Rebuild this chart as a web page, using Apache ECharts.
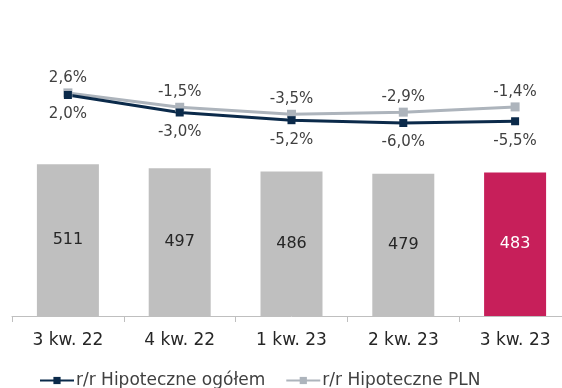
<!DOCTYPE html>
<html>
<head>
<meta charset="utf-8">
<script src="https://cdn.jsdelivr.net/npm/echarts@6/dist/echarts.min.js"></script>
<style>
html,body{margin:0;padding:0;background:#fff;overflow:hidden;width:562px;height:388px;}
#c{width:580px;height:388px;}
</style>
</head>
<body>
<div id="c"></div>
<script>
const categories = ['3 kw. 22', '4 kw. 22', '1 kw. 23', '2 kw. 23', '3 kw. 23'];
const barValues = [511, 497, 486, 479, 483];
const ogolem = [2.0, -3.0, -5.2, -6.0, -5.5];
const pln = [2.6, -1.5, -3.5, -2.9, -1.4];
const seriesNames = ['r/r Hipoteczne ogółem', 'r/r Hipoteczne PLN'];

const FONT = '"DejaVu Sans", sans-serif';
const fmtPct = v => v.toFixed(1).replace('.', ',') + '%';

const chart = echarts.init(document.getElementById('c'), null, {renderer: 'canvas'});
chart.setOption({
  animation: false,
  backgroundColor: '#ffffff',
  textStyle: {fontFamily: FONT},
  legend: {
    data: seriesNames,
    left: 39,
    top: 372,
    padding: 0,
    itemWidth: 34,
    itemHeight: 9,
    itemGap: 20,
    textStyle: {fontFamily: FONT, fontSize: 17, color: '#404040', padding: [0, 0, 0, -3]}
  },
  grid: [
    {left: 12, right: 9, top: 108, bottom: 72, containLabel: false},
    {left: 12, right: 9, top: 67, height: 70, containLabel: false}
  ],
  xAxis: [
    {
      type: 'category', gridIndex: 0, data: categories,
      axisLine: {lineStyle: {color: '#BFBFBF', width: 1}},
      axisTick: {show: true, length: 6, lineStyle: {color: '#BFBFBF'}},
      axisLabel: {fontFamily: FONT, fontSize: 17, color: '#262626', margin: 16}
    },
    {
      type: 'category', gridIndex: 1, data: categories,
      show: false
    }
  ],
  yAxis: [
    {type: 'value', gridIndex: 0, min: 0, max: 700, show: false, splitLine: {show: false}},
    {type: 'value', gridIndex: 1, min: -10, max: 10, show: false, splitLine: {show: false}}
  ],
  series: [
    {
      type: 'bar', xAxisIndex: 0, yAxisIndex: 0,
      data: barValues.map((v, i) => ({
        value: v,
        itemStyle: {color: i === barValues.length - 1 ? '#C71F5A' : '#BFBFBF'},
        label: {color: i === barValues.length - 1 ? '#ffffff' : '#262626'}
      })),
      barWidth: 62,
      label: {show: true, position: 'inside', fontFamily: FONT, fontSize: 16},
      silent: true
    },
    {
      name: seriesNames[1], type: 'line', xAxisIndex: 1, yAxisIndex: 1,
      data: pln,
      color: '#ADB4BC',
      lineStyle: {color: '#ADB4BC', width: 3},
      itemStyle: {color: '#ADB4BC'},
      symbol: 'rect', symbolSize: 9,
      label: {show: true, position: 'top', distance: 3, fontFamily: FONT, fontSize: 15, color: '#404040', formatter: p => fmtPct(p.value)}
    },
    {
      name: seriesNames[0], type: 'line', xAxisIndex: 1, yAxisIndex: 1,
      data: ogolem,
      color: '#0B2A4A',
      lineStyle: {color: '#0B2A4A', width: 3},
      itemStyle: {color: '#0B2A4A'},
      symbol: 'rect', symbolSize: 8,
      label: {show: true, position: 'bottom', distance: 8, fontFamily: FONT, fontSize: 15, color: '#404040', formatter: p => fmtPct(p.value)}
    }
  ]
});
</script>
</body>
</html>
